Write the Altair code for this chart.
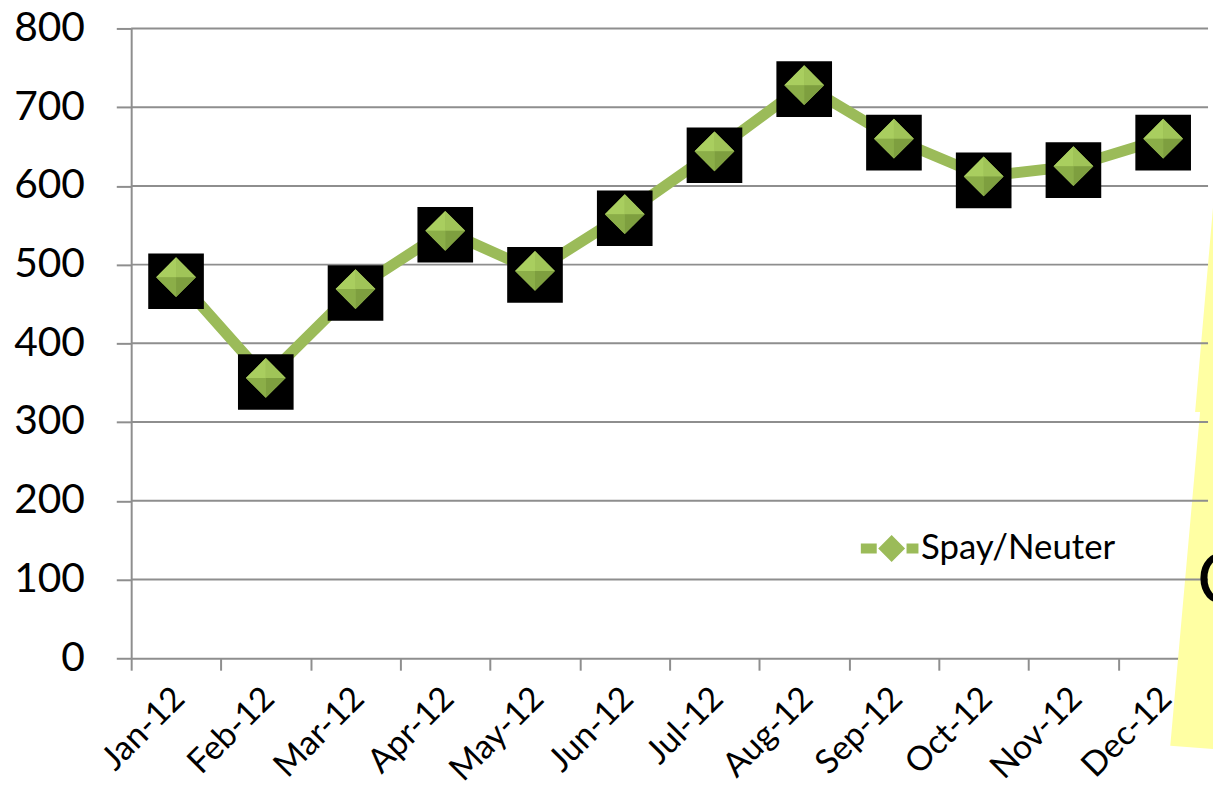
import altair as alt
import pandas as pd

# ---- data ----
months = ["Jan-12", "Feb-12", "Mar-12", "Apr-12", "May-12", "Jun-12",
          "Jul-12", "Aug-12", "Sep-12", "Oct-12", "Nov-12", "Dec-12"]
spay_neuter = [484, 356, 469, 543, 492, 564, 644, 728, 660, 612, 625, 660]
series_name = "Spay/Neuter"
y_ticks = [0, 100, 200, 300, 400, 500, 600, 700, 800]
grid_values = [100, 200, 300, 400, 500, 600, 700, 800]
note_text = ["C"]

df = pd.DataFrame({"month": months, "value": spay_neuter,
                   "series": [series_name] * len(months)})
grid_df = pd.DataFrame({"value": grid_values})

GREEN = "#9BBB59"
GRID = "#8E8E8E"
FONT = "Lato"

LEGEND_PATH = ("M-31,-5 L-15,-5 L-15,5 L-31,5 Z "
               "M-13.5,0 L0,-13.5 L13.5,0 L0,13.5 Z "
               "M15,-5 L27,-5 L27,5 L15,5 Z")
NOTE_PATH = "M1090,169 L1071,386 L1076,386 L1046,722 L1110,727 L1110,169 Z"

x_enc = alt.X(
    "month:N", sort=months,
    scale=alt.Scale(type="band", paddingInner=0, paddingOuter=0),
    axis=alt.Axis(title=None, labelAngle=-45, labelAlign="right",
                  labelBaseline="top", labelFont=FONT, labelFontSize=34,
                  labelPadding=11, labelOffset=-9, labelColor="black",
                  labelOverlap=False, labelBound=False, labelLimit=300,
                  tickBand="extent", tickSize=12, tickColor=GRID, tickWidth=2,
                  domainColor=GRID, domainWidth=2, grid=False),
)
y_enc = alt.Y(
    "value:Q",
    scale=alt.Scale(domain=[0, 800], nice=False, zero=True),
    axis=alt.Axis(title=None, values=y_ticks, grid=False, tickSize=15,
                  tickColor=GRID, tickWidth=2, domainColor=GRID, domainWidth=2,
                  labelFont=FONT, labelFontSize=41, labelPadding=32,
                  labelColor="black"),
)

note = alt.Chart(alt.Data(values=[{"n": 1}])).mark_point(
    shape=NOTE_PATH, size=4, filled=True, color="#FFFFA3", opacity=1,
    strokeWidth=0
).encode(x=alt.value(0), y=alt.value(0))

grid = alt.Chart(grid_df).mark_rule(color=GRID, strokeWidth=2).encode(y=y_enc)

note_letter = alt.Chart(alt.Data(values=[{"t": note_text[0]}])).mark_text(
    font=FONT, fontSize=72, align="left", baseline="middle", color="black"
).encode(text="t:N", x=alt.value(1073), y=alt.value(557))

base = alt.Chart(df)

line = base.mark_line(color=GREEN, strokeWidth=11, strokeCap="butt").encode(
    x=x_enc, y=y_enc)

squares = base.mark_square(size=3136, color="black", filled=True, opacity=1,
                           yOffset=4).encode(x=x_enc, y=y_enc)

diamonds = base.mark_point(shape="diamond", size=1600, filled=True, opacity=1,
                           strokeWidth=0).encode(
    x=x_enc, y=y_enc,
    color=alt.Color("series:N", scale=alt.Scale(range=[GREEN]),
                    legend=alt.Legend(title=None, orient="none", legendX=748,
                                      legendY=506, symbolType=LEGEND_PATH,
                                      symbolSize=4, symbolStrokeWidth=0,
                                      labelFont=FONT, labelFontSize=35,
                                      labelOffset=12, labelLimit=400,
                                      labelColor="black", padding=0)),
)

facets = []
for path, col in [("M-1,0 L0,-1 L0,0 Z", "#A9CE5F"),
                  ("M0,-1 L1,0 L0,0 Z", "#A0C458"),
                  ("M-1,0 L0,0 L0,1 Z", "#8BAE48"),
                  ("M0,0 L1,0 L0,1 Z", "#7E9F3F")]:
    facets.append(base.mark_point(shape=path, size=1600, filled=True,
                                  opacity=1, strokeWidth=0, color=col)
                  .encode(x=x_enc, y=y_enc))

chart = alt.layer(note, grid, note_letter, line, squares, diamonds, *facets).properties(
    width=1084, height=634,
    padding={"left": 124, "top": 18, "right": 5, "bottom": 125},
    autosize=alt.AutoSizeParams(type="none"),
    background="white",
).configure_view(strokeOpacity=0)

chart.save("out.html", embed_options={"renderer": "svg", "actions": False})
